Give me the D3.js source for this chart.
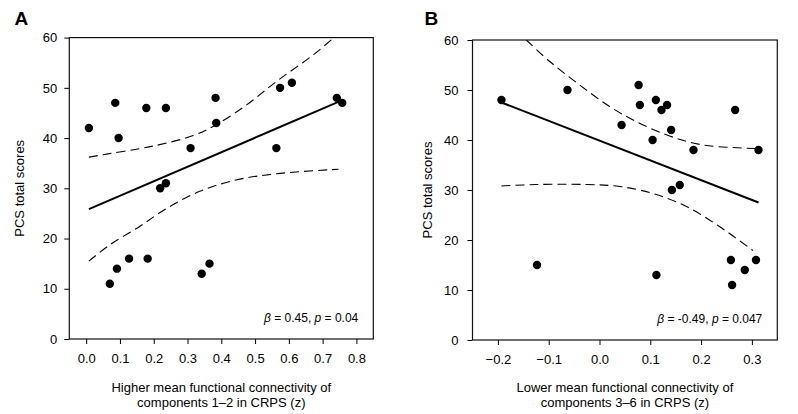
<!DOCTYPE html>
<html><head><meta charset="utf-8">
<script src="https://cdn.jsdelivr.net/npm/d3@7"></script>
<style>
body{margin:0;background:#fff}
svg{display:block}
text{font-family:"Liberation Sans",Arial,Helvetica,sans-serif;fill:#000}
</style>
</head><body>
<svg id="chart" width="798" height="414"></svg>
<script>
// ---------- Panel A data ----------
const aX = [0.008,0.086,0.096,0.178,0.236,0.383,0.385,0.309,0.563,0.574,0.609,0.742,0.758,0.219,0.236,0.070,0.091,0.127,0.182,0.342,0.365];
const aY = [42,47,40,46,46,48,43,38,38,50,51,48,47,30,31,11,14,16,16,13,15];
const aFitX = [0.008, 0.750];
const aFitY = [25.85, 47.3];
const aUpX = [0.008,0.069,0.158,0.218,0.317,0.386,0.475,0.564,0.673,0.735];
const aUpY = [36.2,36.9,37.9,38.7,40.5,42.7,46.6,51.3,56.6,60.1];
const aLoX = [0.008,0.069,0.158,0.238,0.336,0.446,0.564,0.747];
const aLoY = [15.5,18.7,22.4,26.0,29.4,31.7,32.9,33.8];
const aXTicks = [0.0,0.1,0.2,0.3,0.4,0.5,0.6,0.7,0.8];
const aXDomain = [-0.05, 0.85];

// ---------- Panel B data ----------
const bX = [-0.193,-0.063,0.0435,0.077,0.0795,0.111,0.122,0.133,0.1045,0.141,0.185,0.267,0.313,0.1425,0.158,-0.123,0.112,0.2587,0.261,0.286,0.308];
const bY = [48,50,43,51,47,48,46,47,40,42,38,46,38,30,31,15,13,16,11,14,16];
const bFitX = [-0.193, 0.313];
const bFitY = [47.5, 27.5];
const bUpX = [-0.144,-0.098,-0.039,0.020,0.072,0.138,0.204,0.309];
const bUpY = [60,55.7,51,46.7,43.7,40.8,39,38.3];
const bLoX = [-0.193,-0.124,-0.026,0.040,0.105,0.171,0.236,0.302];
const bLoY = [30.8,31.1,31.1,30.7,29.3,26.7,22.7,17.9];
const bXTicks = [-0.2,-0.1,0.0,0.1,0.2,0.3];
const bXDomain = [-0.25, 0.35];

// ---------- shared ----------
const yTicks = [0,10,20,30,40,50,60];
const yDomain = [0,60];
const yTitle = "PCS total scores";

const svg = d3.select("#chart");

const panels = [
  {id:"A", letter:"A", xs:aX, ys:aY, fitX:aFitX, fitY:aFitY, upX:aUpX, upY:aUpY, loX:aLoX, loY:aLoY,
   xTicks:aXTicks, xDomain:aXDomain,
   box:{l:69.3,r:373.3,t:37.6,b:339}, yPad:7, letterPos:[14.5,25],
   yTitleX:19, title:["Higher mean functional connectivity of","components 1\u20132 in CRPS (z)"],
   stat:{beta:"0.45", p:"0.04"}},
  {id:"B", letter:"B", xs:bX, ys:bY, fitX:bFitX, fitY:bFitY, upX:bUpX, upY:bUpY, loX:bLoX, loY:bLoY,
   xTicks:bXTicks, xDomain:bXDomain,
   box:{l:472.5,r:777.3,t:40,b:340}, yPad:9, letterPos:[424.5,25],
   yTitleX:427, title:["Lower mean functional connectivity of","components 3\u20136 in CRPS (z)"],
   stat:{beta:"-0.49", p:"0.047"}}
];

panels.forEach(P => {
  const B = P.box;
  const x = d3.scaleLinear().domain(P.xDomain).range([B.l, B.r]);
  const y = d3.scaleLinear().domain(yDomain).range([B.b, B.t]);
  const g = svg.append("g");

  svg.append("clipPath").attr("id","clip"+P.id)
    .append("rect").attr("x",B.l).attr("y",B.t).attr("width",B.r-B.l).attr("height",B.b-B.t);

  const xa = g.append("g").attr("transform",`translate(0,${B.b})`)
    .call(d3.axisBottom(x).tickValues(P.xTicks).tickFormat(d3.format(".1f")).tickSize(5).tickPadding(10));
  const ya = g.append("g").attr("transform",`translate(${B.l},0)`)
    .call(d3.axisLeft(y).tickValues(yTicks).tickFormat(d3.format("d")).tickSize(5).tickPadding(P.yPad));
  [xa, ya].forEach(a => {
    a.select(".domain").remove();
    a.selectAll(".tick line").attr("stroke","#000").attr("stroke-width",1);
    a.selectAll(".tick text").attr("font-size",13).attr("fill","#000")
      .style("font-family",'"Liberation Sans",Arial,sans-serif');
  });

  g.append("rect").attr("x",B.l).attr("y",B.t).attr("width",B.r-B.l).attr("height",B.b-B.t)
    .attr("fill","none").attr("stroke","#111").attr("stroke-width",1.2);

  const plot = g.append("g").attr("clip-path",`url(#clip${P.id})`);
  const line = d3.line().x(d=>x(d[0])).y(d=>y(d[1])).curve(d3.curveCatmullRom.alpha(0.5));

  [[P.upX,P.upY],[P.loX,P.loY]].forEach(([xs,ys]) => {
    plot.append("path").datum(xs.map((v,i)=>[v,ys[i]])).attr("d",line)
      .attr("fill","none").attr("stroke","#000").attr("stroke-width",1.1)
      .attr("stroke-dasharray","9,5");
  });

  plot.append("path").datum(P.fitX.map((v,i)=>[v,P.fitY[i]]))
    .attr("d",d3.line().x(d=>x(d[0])).y(d=>y(d[1])))
    .attr("fill","none").attr("stroke","#000").attr("stroke-width",2);

  g.append("g").selectAll("circle").data(P.xs.map((v,i)=>[v,P.ys[i]])).join("circle")
    .attr("cx",d=>x(d[0])).attr("cy",d=>y(d[1])).attr("r",4.2).attr("fill","#000");

  const st = g.append("text").attr("x",B.r-15).attr("y",B.b-17).attr("text-anchor","end").attr("font-size",12);
  st.append("tspan").attr("font-style","italic").text("\u03B2");
  st.append("tspan").text(` = ${P.stat.beta}, `);
  st.append("tspan").attr("font-style","italic").text("p");
  st.append("tspan").text(` = ${P.stat.p}`);

  g.append("text").attr("transform",`translate(${P.yTitleX+4.5},${(B.t+B.b)/2}) rotate(-90)`)
    .attr("text-anchor","middle").attr("font-size",13).text(yTitle);

  const cx = (B.l+B.r)/2;
  P.title.forEach((t,i) => {
    g.append("text").attr("x",cx).attr("y",392+i*14.5).attr("text-anchor","middle")
      .attr("font-size",13).text(t);
  });

  g.append("text").attr("x",P.letterPos[0]).attr("y",P.letterPos[1])
    .attr("font-size",19).attr("font-weight","bold").text(P.letter);
});
</script>
</body></html>
